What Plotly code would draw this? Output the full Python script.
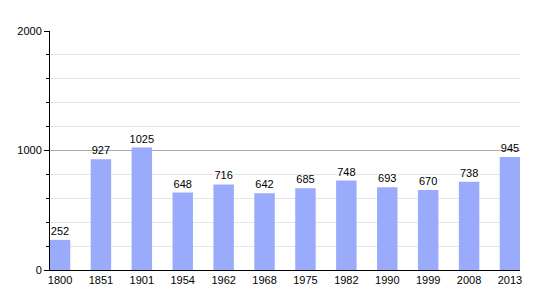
import plotly.graph_objects as go

years = ["1800", "1851", "1901", "1954", "1962", "1968", "1975", "1982", "1990", "1999", "2008", "2013"]
population = [252, 927, 1025, 648, 716, 642, 685, 748, 693, 670, 738, 945]
y_ticks = [0, 1000, 2000]

fig = go.Figure(
    go.Bar(
        x=years,
        y=population,
        width=0.5,
        marker=dict(color="#99abfa", line=dict(width=0)),
        text=[str(v) for v in population],
        textposition="outside",
        constraintext="none",
        textfont=dict(family="Liberation Sans, Arial, sans-serif", size=11, color="#000"),
        cliponaxis=False,
    )
)

fig.update_layout(
    width=550,
    height=300,
    margin=dict(l=50, r=30, t=31, b=30),
    paper_bgcolor="white",
    plot_bgcolor="white",
    showlegend=False,
    bargap=0.5,
    font=dict(family="Liberation Sans, Arial, sans-serif", size=11, color="#000"),
)

fig.update_xaxes(
    type="category",
    range=[-0.245, 11.245],
    showline=True,
    linecolor="#000",
    linewidth=1,
    ticks="",
    showgrid=False,
    tickfont=dict(size=11, color="#000"),
)

fig.update_yaxes(
    range=[0, 2000],
    tickvals=y_ticks,
    ticktext=[str(v) for v in y_ticks],
    showline=True,
    linecolor="#000",
    linewidth=1,
    ticks="outside",
    ticklen=5,
    tickcolor="#000",
    showgrid=True,
    gridcolor="#aaaaaa",
    gridwidth=1,
    zeroline=False,
    tickfont=dict(size=11, color="#000"),
    minor=dict(dtick=200, showgrid=True, gridcolor="#e6e6e6", gridwidth=1,
               ticks="outside", ticklen=3, tickcolor="#000"),
)

fig.write_html("out.html")
